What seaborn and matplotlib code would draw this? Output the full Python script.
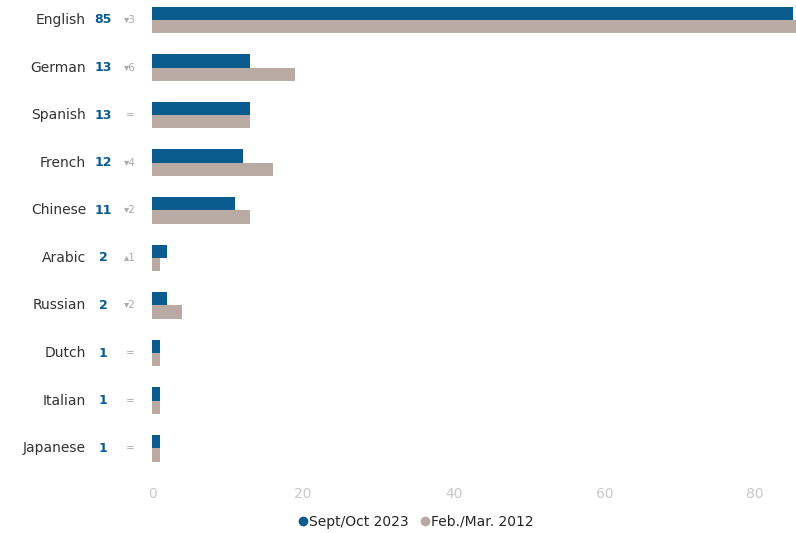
import seaborn as sns
import matplotlib.pyplot as plt
import matplotlib.transforms as mtransforms
from matplotlib.lines import Line2D
import pandas as pd

# languages used online, share of websites (%)
languages = ["English", "German", "Spanish", "French", "Chinese",
             "Arabic", "Russian", "Dutch", "Italian", "Japanese"]
share_2023 = [85, 13, 13, 12, 11, 2, 2, 1, 1, 1]
share_2012 = [88, 19, 13, 16, 13, 1, 4, 1, 1, 1]
periods = ["Sept/Oct 2023", "Feb./Mar. 2012"]
colors = ["#0b5c8e", "#b9aba3"]

sns.set_theme(style="white")
plt.rcParams["font.family"] = ["DejaVu Sans"]

df = pd.DataFrame({
    "language": languages * 2,
    "share": share_2023 + share_2012,
    "period": [periods[0]] * len(languages) + [periods[1]] * len(languages),
})

fig = plt.figure(figsize=(7.96, 5.33), dpi=100)
ax = fig.add_axes([0.191, 0.1145, 0.809, 0.8855])

sns.barplot(data=df, y="language", x="share", hue="period", orient="h",
            palette=colors, width=0.56, saturation=1, ax=ax, legend=False,
            linewidth=0, edgecolor="none")

ax.set_xlim(0, 85.4)
ax.set_ylim(9.5, -0.42)
ax.set_xticks([0, 20, 40, 60, 80])
ax.set_yticks([])
ax.set_xlabel("")
ax.set_ylabel("")
ax.tick_params(axis="x", length=0, pad=11, labelsize=10, labelcolor="#c9c9c9")
sns.despine(ax=ax, left=True, bottom=True)

# labels on the left: name, current value, change since 2012
trans = mtransforms.blended_transform_factory(ax.transAxes, ax.transData)
for i, lang in enumerate(languages):
    ax.text(-0.1025, i, lang, transform=trans, ha="right", va="center",
            fontsize=10, color="#333333")
    ax.text(-0.076, i, str(share_2023[i]), transform=trans, ha="center",
            va="center", fontsize=9, fontweight="bold", color="#0b5c8e")
    diff = share_2023[i] - share_2012[i]
    if diff < 0:
        chg = "\u25be" + str(-diff)
    elif diff > 0:
        chg = "\u25b4" + str(diff)
    else:
        chg = "="
    ax.text(-0.034, i, chg, transform=trans, ha="center", va="center",
            fontsize=7.5, color="#aaaaaa")

handles = [Line2D([0], [0], marker="o", linestyle="", markersize=6,
                  markerfacecolor=c, markeredgecolor=c) for c in colors]
fig.legend(handles, periods, loc="center", bbox_to_anchor=(0.522, 0.021),
           ncol=2, frameon=False, fontsize=10, handletextpad=0.05,
           columnspacing=0.8, handlelength=0.8)

fig.savefig("out.png", dpi=100)
